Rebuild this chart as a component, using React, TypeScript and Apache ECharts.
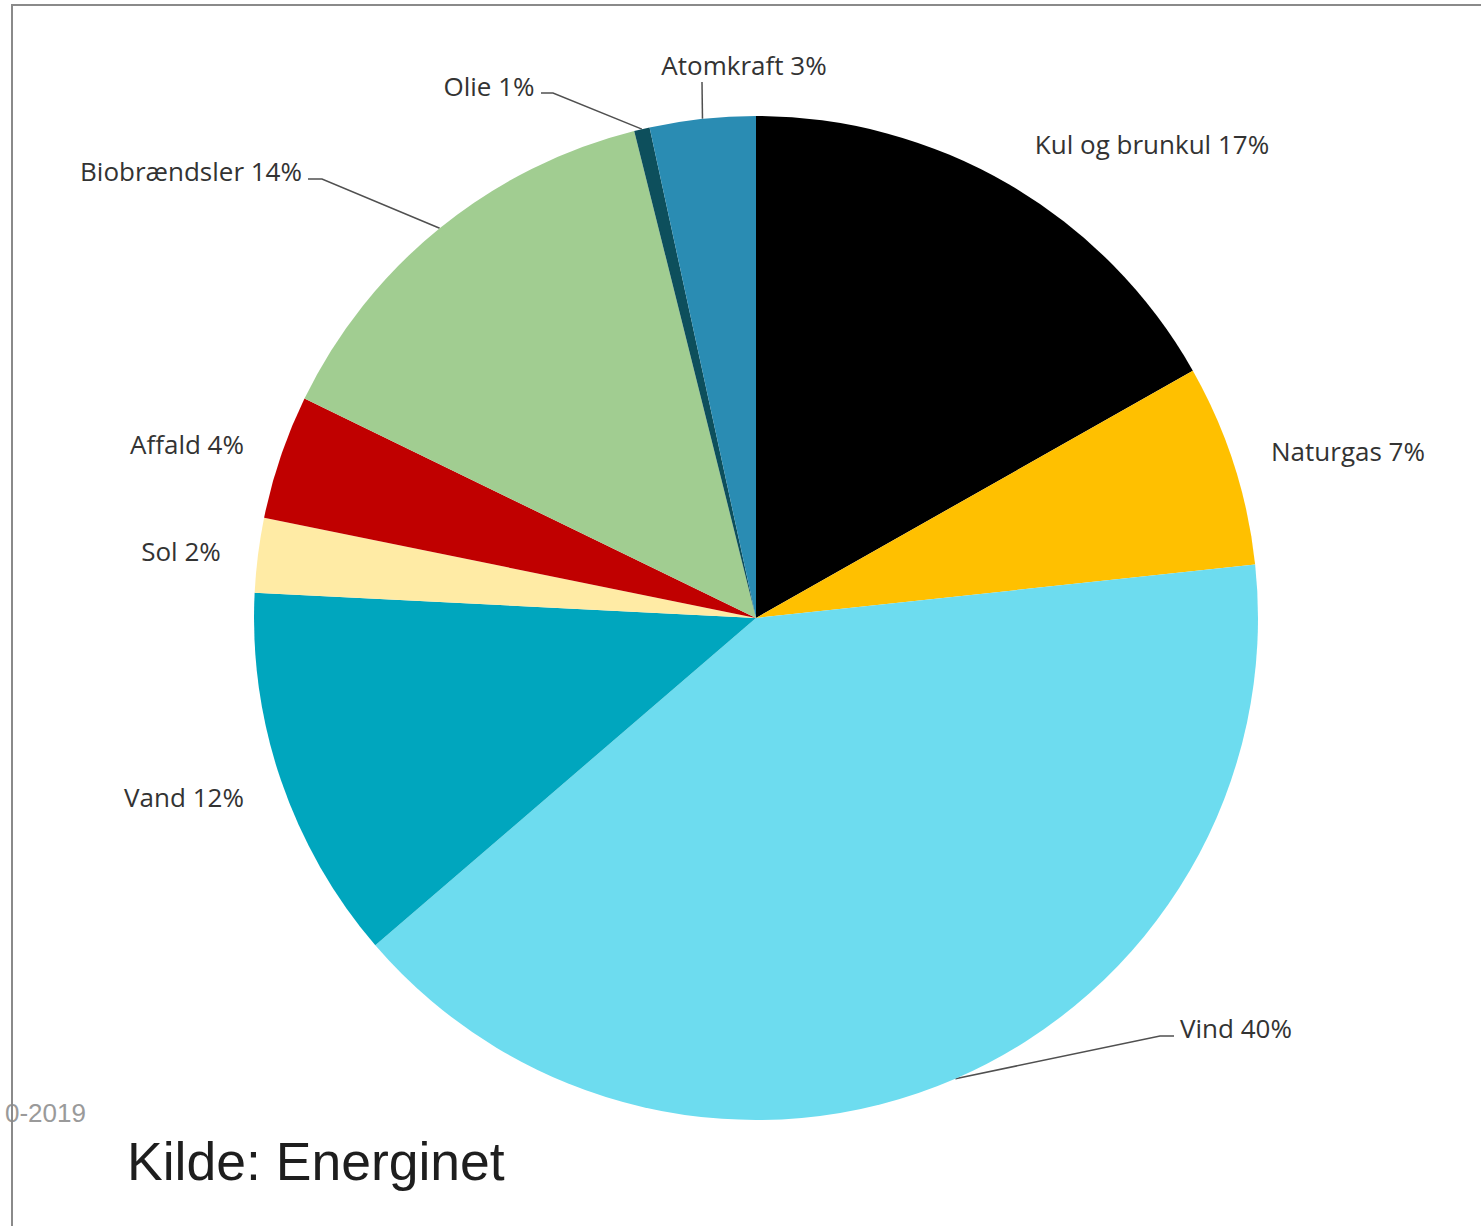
import React, { useEffect, useRef } from "react";
import * as echarts from "echarts";

// ---- data ----
const categories = [
  "Kul og brunkul",
  "Naturgas",
  "Vind",
  "Vand",
  "Sol",
  "Affald",
  "Biobrændsler",
  "Olie",
  "Atomkraft",
];
const shares = [16.8, 6.5, 40.4, 12.1, 2.4, 4.0, 13.9, 0.5, 3.4];
const labelPercents = [17, 7, 40, 12, 2, 4, 14, 1, 3];
const sliceColors = [
  "#000000",
  "#FFC000",
  "#6DDCEF",
  "#00A6BE",
  "#FFEBA5",
  "#C00000",
  "#A1CD91",
  "#0D4F5C",
  "#2A8CB3",
];
const sourceText = "Kilde: Energinet";
const periodText = "0-2019";

// ---- layout (label placement, Excel-style) ----
const labelCenters: [number, number][] = [
  [1152, 144],
  [1348, 451],
  [1236, 1028],
  [184, 797],
  [181, 551],
  [187, 444],
  [191, 171],
  [489, 86],
  [744, 65],
];
const leaderTails: (null | [number, number][])[] = [
  null,
  null,
  [
    [1160, 1036],
    [1174, 1036],
  ],
  null,
  null,
  null,
  [
    [322, 179],
    [308, 179],
  ],
  [
    [553, 93],
    [541, 93],
  ],
  [
    [702, 82],
    [702, 82],
  ],
];

export default function App() {
  const ref = useRef<HTMLDivElement>(null);

  useEffect(() => {
    if (!ref.current) return;
    const chart = echarts.init(ref.current, undefined, { renderer: "svg" });

    const data = categories.map((name, i) => ({
      name,
      value: shares[i],
      itemStyle: { color: sliceColors[i] },
      labelLine: { show: leaderTails[i] != null },
    }));

    chart.setOption({
      animation: false,
      backgroundColor: "#ffffff",
      graphic: [
        {
          type: "line",
          shape: { x1: 11, y1: 5, x2: 1481, y2: 5 },
          style: { stroke: "#8a8a8a", lineWidth: 2 },
          z: 10,
        },
        {
          type: "text",
          left: 5,
          top: 1100,
          style: {
            text: periodText,
            fill: "#9a9a9a",
            font: '26px "Liberation Sans", Arial, sans-serif',
          },
          z: 5,
        },
        {
          type: "line",
          shape: { x1: 12, y1: 5, x2: 12, y2: 1226 },
          style: { stroke: "#8a8a8a", lineWidth: 2 },
          z: 10,
        },
        {
          type: "text",
          left: 127,
          top: 1134,
          style: {
            text: sourceText,
            fill: "#1e1e1e",
            font: '53.5px "Liberation Sans", Arial, sans-serif',
          },
          z: 5,
        },
      ],
      series: [
        {
          type: "pie",
          center: [756, 618],
          radius: [0, 502],
          startAngle: 90,
          clockwise: true,
          avoidLabelOverlap: false,
          itemStyle: { borderWidth: 0 },
          emphasis: { disabled: true },
          label: {
            show: true,
            position: "outside",
            color: "#333333",
            fontSize: 26,
            fontFamily: '"Open Sans", sans-serif',
            formatter: (p: any) => `${p.name} ${labelPercents[p.dataIndex]}%`,
          },
          labelLine: {
            show: true,
            length: 20,
            length2: 10,
            smooth: false,
            lineStyle: { color: "#505050", width: 1.5 },
          },
          labelLayout: (params: any) => {
            const i = params.dataIndex;
            const [cx, cy] = labelCenters[i];
            const res: any = {
              x: cx,
              y: cy,
              align: "center",
              verticalAlign: "middle",
            };
            const tail = leaderTails[i];
            if (tail && params.labelLinePoints) {
              const p0 = params.labelLinePoints[0];
              res.labelLinePoints = [[p0[0], p0[1]], tail[0], tail[1]];
            }
            return res;
          },
          data,
        },
      ],
    });

    return () => chart.dispose();
  }, []);

  return (
    <div
      ref={ref}
      style={{ position: "fixed", left: 0, top: 0, width: 1481, height: 1226 }}
    />
  );
}
